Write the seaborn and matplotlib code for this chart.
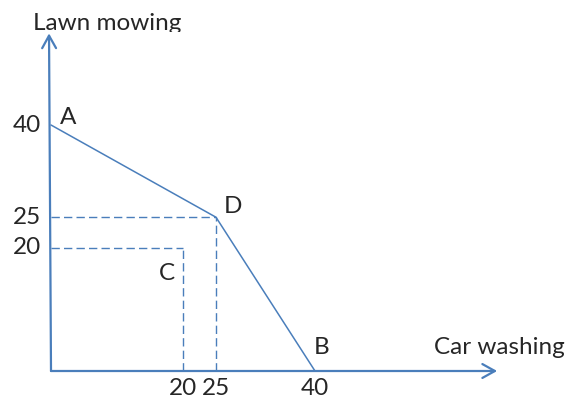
import matplotlib
matplotlib.use("Agg")
import matplotlib.pyplot as plt
import pandas as pd
import seaborn as sns
from matplotlib.patches import Rectangle

# production possibilities frontier: A -> D -> B
points = ["A", "D", "B"]
car_washing = [0, 25, 40]
lawn_mowing = [40, 25, 0]

# inefficient point C
c_car = 20
c_lawn = 20

y_ticks = [40, 25, 20]
x_ticks = [20, 25, 40]

blue = "#4A7EBB"

sns.set_theme(style="white")
plt.rcParams["font.family"] = ["Lato", "DejaVu Sans"]

fig = plt.figure(figsize=(5.71, 4.0), dpi=100)
ax = fig.add_axes([0, 0, 1, 1])

df = pd.DataFrame({"point": points, "car": car_washing, "lawn": lawn_mowing})
sns.lineplot(data=df, x="car", y="lawn", sort=False, color=blue, lw=1.1, ax=ax)

# dashed guides to D and C
dash = dict(color=blue, lw=1.0, ls=(0, (6, 3)))
d_car, d_lawn = car_washing[1], lawn_mowing[1]
ax.plot([0, d_car], [d_lawn, d_lawn], **dash)
ax.plot([d_car, d_car], [0, d_lawn], **dash)
ax.plot([0, c_car], [c_lawn, c_lawn], **dash)
ax.plot([c_car, c_car], [0, c_lawn], **dash)

# pixel mapping: x=0 -> 51px, 6.6 px/unit ; y=0 -> 371px from top, 6.15 px/unit
ax.set_xlim(-51 / 6.6, (571 - 51) / 6.6)
ax.set_ylim((371 - 400) / 6.15, 371 / 6.15)
ax.axis("off")

arrow = dict(arrowstyle="->,head_length=0.45,head_width=0.25", color=blue,
             lw=1.6, mutation_scale=20, shrinkA=0, shrinkB=0)
ax.annotate("", xy=(67.6, 0), xytext=(0, 0), arrowprops=arrow)
ax.annotate("", xy=(-0.3, 54.9), xytext=(0, 0), arrowprops=arrow)

fs = 17.5
# point labels
offsets = {"A": (17, 8), "D": (17, 11), "B": (7, 23)}
for p, cx, ly in zip(points, car_washing, lawn_mowing):
    dx, dy = offsets[p]
    ax.annotate(p, (cx, ly), xytext=(dx, dy), textcoords="offset pixels",
                ha="center", va="center", fontsize=fs)
ax.annotate("C", (c_car, c_lawn), xytext=(-16, -25), textcoords="offset pixels",
            ha="center", va="center", fontsize=fs)

# tick numbers
for v in y_ticks:
    ax.annotate(str(v), (0, v), xytext=(-10, 0), textcoords="offset pixels",
                ha="right", va="center", fontsize=fs)
for v in x_ticks:
    ax.annotate(str(v), (v, 0), xytext=(0, -7), textcoords="offset pixels",
                ha="center", va="top", fontsize=fs)

ax.text(58.0, 3.9, "Car washing", ha="left", va="center", fontsize=fs)
t = fig.text(33 / 571, 1 - 30 / 400, "Lawn mowing", ha="left", va="baseline", fontsize=fs)
clip = Rectangle((0, 400 - 32), 571, 32, transform=None)
t.set_clip_path(clip)

fig.savefig("out.png", dpi=100)
